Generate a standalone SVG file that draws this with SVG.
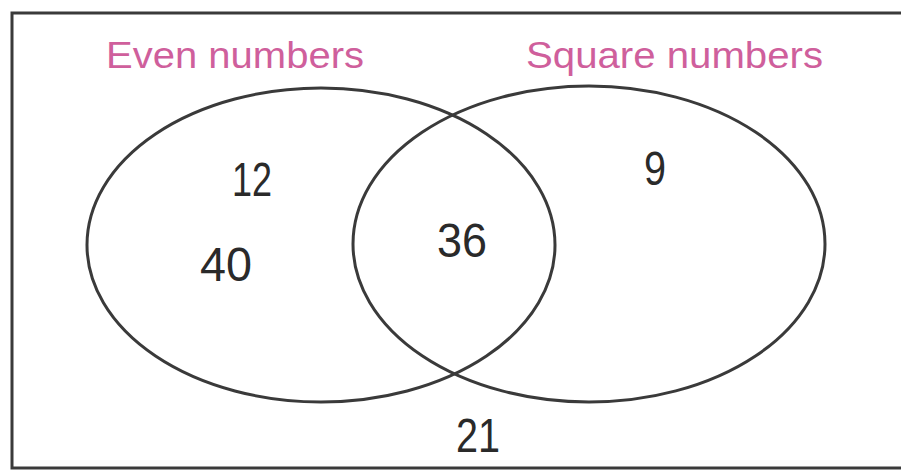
<svg xmlns="http://www.w3.org/2000/svg" width="901" height="474" viewBox="0 0 901 474">
<style>
.frame{fill:none;stroke:#3a3a3a;stroke-width:3}
.set{fill:none;stroke:#3a3a3a;stroke-width:3}
.title{font-family:"Liberation Sans",Arial,sans-serif;font-size:37px;fill:#cf5f9c}
.num{font-family:"Liberation Sans",Arial,sans-serif;font-size:48px;fill:#2a2a2a;text-anchor:middle}
</style>
<rect width="901" height="474" fill="#ffffff"/>
<rect id="frame" class="frame" x="12" y="13" width="900" height="455"/>
<g id="even">
<ellipse class="set" cx="321" cy="245" rx="234" ry="157"/>
<text class="title" x="106" y="68" textLength="258" lengthAdjust="spacingAndGlyphs">Even numbers</text>
</g>
<g id="square">
<ellipse class="set" cx="589" cy="244" rx="236" ry="158"/>
<text class="title" x="526" y="68" textLength="297" lengthAdjust="spacingAndGlyphs">Square numbers</text>
</g>
<g id="values">
<text class="num" x="252" y="196" textLength="40" lengthAdjust="spacingAndGlyphs">12</text>
<text class="num" x="226" y="281" textLength="52" lengthAdjust="spacingAndGlyphs">40</text>
<text class="num" x="462" y="257" textLength="50" lengthAdjust="spacingAndGlyphs">36</text>
<text class="num" x="655" y="185" textLength="22" lengthAdjust="spacingAndGlyphs">9</text>
<text class="num" x="478" y="452" textLength="44" lengthAdjust="spacingAndGlyphs">21</text>
</g>
</svg>
